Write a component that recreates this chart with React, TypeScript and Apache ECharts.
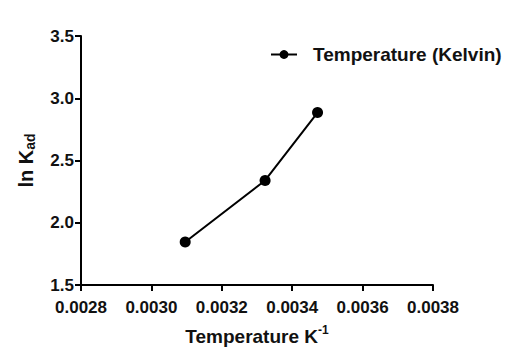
import React, { useEffect, useRef } from "react";
import * as echarts from "echarts";

const invTemps = [0.003096, 0.003323, 0.003472];
const lnKad = [1.845, 2.34, 2.885];
const seriesName = "Temperature (Kelvin)";

export default function App() {
  const ref = useRef<HTMLDivElement>(null);
  useEffect(() => {
    const chart = echarts.init(ref.current!, null, { renderer: "svg" });
    const font = "'Liberation Sans', Arial, sans-serif";
    chart.setOption({
      animation: false,
      backgroundColor: "#fff",
      grid: { left: 81, right: 88, top: 36, bottom: 73, containLabel: false },
      legend: {
        data: [seriesName],
        left: 265,
        top: 40,
        itemWidth: 26,
        itemHeight: 11,
        textStyle: {
          fontFamily: font,
          fontWeight: "bold",
          fontSize: 19,
          color: "#111",
          padding: [0, 0, 0, 11],
        },
      },
      xAxis: {
        type: "value",
        min: 0.0028,
        max: 0.0038,
        interval: 0.0002,
        splitLine: { show: false },
        axisLine: { onZero: false, lineStyle: { color: "#000", width: 2 } },
        axisTick: { length: 6, lineStyle: { color: "#000", width: 2 } },
        axisLabel: {
          formatter: (v: number) => v.toFixed(4),
          fontFamily: font,
          fontWeight: "bold",
          fontSize: 17,
          color: "#111",
          margin: 14,
        },
        name: "{a|Temperature K}{s|-1}",
        nameLocation: "middle",
        nameGap: 39,
        nameTextStyle: {
          rich: {
            a: { fontFamily: font, fontWeight: "bold", fontSize: 19, color: "#111" },
            s: { fontFamily: font, fontWeight: "bold", fontSize: 12, color: "#111", padding: [0, 0, 12, 0] },
          },
        },
      },
      yAxis: {
        type: "value",
        min: 1.5,
        max: 3.5,
        interval: 0.5,
        splitLine: { show: false },
        axisLine: { show: true, onZero: false, lineStyle: { color: "#000", width: 2 } },
        axisTick: { show: true, length: 6, lineStyle: { color: "#000", width: 2 } },
        axisLabel: {
          formatter: (v: number) => v.toFixed(1),
          fontFamily: font,
          fontWeight: "bold",
          fontSize: 17,
          color: "#111",
          margin: 7,
        },
        name: "{a|ln K}{s|ad}",
        nameLocation: "middle",
        nameGap: 44,
        nameRotate: 90,
        nameTextStyle: {
          rich: {
            a: { fontFamily: font, fontWeight: "bold", fontSize: 20, color: "#111" },
            s: { fontFamily: font, fontWeight: "bold", fontSize: 14, color: "#111", padding: [9, 0, 0, 0] },
          },
        },
      },
      series: [
        {
          name: seriesName,
          type: "line",
          data: invTemps.map((x, i) => [x, lnKad[i]]),
          symbol: "circle",
          symbolSize: 11,
          lineStyle: { color: "#000", width: 2 },
          itemStyle: { color: "#000" },
        },
      ],
    });
    return () => chart.dispose();
  }, []);
  return <div ref={ref} style={{ width: 521, height: 358, position: "absolute", left: 0, top: 0 }} />;
}
